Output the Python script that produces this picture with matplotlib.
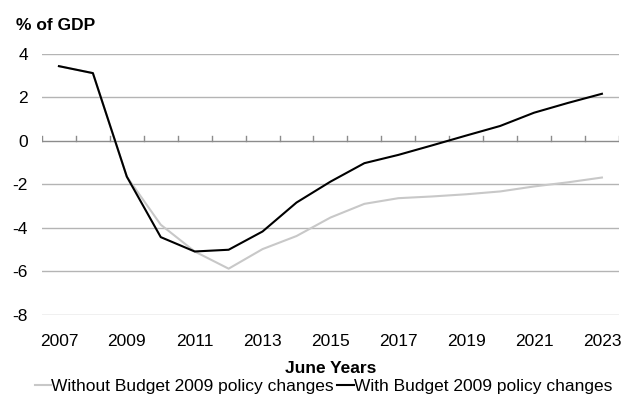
import matplotlib.pyplot as plt
import numpy as np

years = list(range(2007, 2024))
without_budget = [3.44, 3.12, -1.64, -3.85, -5.08, -5.87, -4.97, -4.37, -3.52,
                  -2.89, -2.63, -2.55, -2.45, -2.32, -2.09, -1.90, -1.68]
with_budget = [3.44, 3.12, -1.64, -4.42, -5.08, -5.00, -4.16, -2.83, -1.87,
               -1.02, -0.64, -0.20, 0.25, 0.69, 1.30, 1.75, 2.17]
y_ticks = [4, 2, 0, -2, -4, -6, -8]

plt.rcParams['font.family'] = ['Liberation Sans', 'DejaVu Sans']
plt.rcParams['font.size'] = 12.5


def main():
    fig = plt.figure(figsize=(6.22, 3.94), dpi=100)
    ax = fig.add_axes([0.0675, 0.2005, 0.9275, 0.6625])

    x = np.arange(len(years))
    ax.plot(x, without_budget, color='#c8c8c8', lw=1.5,
            label='Without Budget 2009 policy changes')
    ax.plot(x, with_budget, color='black', lw=1.5,
            label='With Budget 2009 policy changes')

    ax.set_xlim(-0.5, len(years) - 0.5)
    ax.set_ylim(-8, 4)
    ax.set_yticks(y_ticks)
    ax.set_yticklabels([str(v) for v in y_ticks])
    for v in y_ticks:
        if v != 0:
            ax.axhline(v, color='#b4b4b4', lw=1, zorder=0)
    ax.axhline(0, color='#8c8c8c', lw=1, zorder=0)

    # category boundary ticks on the zero line
    for b in np.arange(-0.5, len(years), 1.0):
        ax.plot([b, b], [0, 0.22], color='#8c8c8c', lw=1, zorder=0)

    for s in ax.spines.values():
        s.set_visible(False)
    ax.tick_params(axis='y', length=0, pad=10)
    ax.tick_params(axis='x', length=0, pad=14)
    ax.set_xticks(x[::2])
    ax.set_xticklabels([str(y) for y in years[::2]])

    ax.set_xlabel('June Years', fontweight='bold', labelpad=8)
    fig.text(0.026, 0.9365, '% of GDP', fontweight='bold', fontsize=12.5,
             va='center', ha='left')

    fig.legend(loc='center', bbox_to_anchor=(0.52, 0.019), ncol=2,
               frameon=False, handlelength=0.95, handletextpad=0.0,
               columnspacing=0.2, borderaxespad=0.0, borderpad=0.0)

    fig.savefig('out.png', dpi=100)


if __name__ == '__main__':
    main()
